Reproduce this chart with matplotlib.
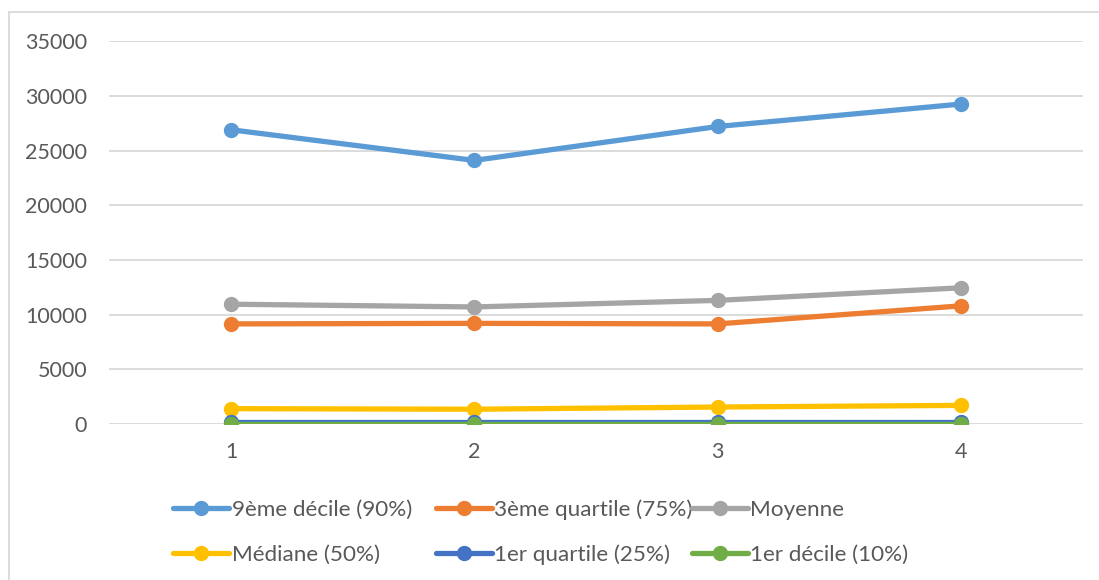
import matplotlib.pyplot as plt
from matplotlib.lines import Line2D

plt.rcParams['font.family'] = ['Lato', 'DejaVu Sans']

# Data
periods = [1, 2, 3, 4]
decile_9 = [26900, 24100, 27200, 29250]
quartile_3 = [9150, 9200, 9150, 10800]
moyenne = [10950, 10700, 11300, 12450]
mediane = [1400, 1350, 1550, 1700]
quartile_1 = [150, 150, 150, 150]
decile_1 = [40, 40, 40, 40]

series = [
    ("9ème décile (90%)", decile_9, '#5B9BD5'),
    ("3ème quartile (75%)", quartile_3, '#ED7D31'),
    ("Moyenne", moyenne, '#A5A5A5'),
    ("Médiane (50%)", mediane, '#FFC000'),
    ("1er quartile (25%)", quartile_1, '#4472C4'),
    ("1er décile (10%)", decile_1, '#70AD47'),
]

fig = plt.figure(figsize=(10.99, 5.8), dpi=100)
ax = fig.add_axes([0.0996, 0.269, 0.8854, 0.660])

for label, vals, col in series:
    ax.plot(periods, vals, color=col, lw=3.8, marker='o', ms=10,
            solid_capstyle='round', label=label, zorder=3)

ax.set_xlim(0.5, 4.5)
ax.set_ylim(0, 35000)
ax.set_yticks(range(0, 35001, 5000))
ax.set_xticks(periods)
ax.grid(axis='y', color='#D9D9D9', lw=1.3, zorder=0)
ax.tick_params(length=0, labelsize=15.5, colors='#595959')
ax.tick_params(axis='x', pad=13)
ax.tick_params(axis='y', pad=16)
for s in ax.spines.values():
    s.set_visible(False)

# chart border (left and top only visible in the reference crop)
fig.add_artist(Line2D([9/1099, 9/1099], [0, 1 - 12/580], color='#D9D9D9', lw=1.3))
fig.add_artist(Line2D([9/1099, 1], [1 - 12/580, 1 - 12/580], color='#D9D9D9', lw=1.3))

# legend: three columns of two entries, placed like the Excel legend
handles, labels = ax.get_legend_handles_labels()
col_x = [173, 436, 692]
for c in range(3):
    idx = [c, c + 3]
    leg = fig.legend([handles[i] for i in idx], [labels[i] for i in idx],
                     loc='center left', bbox_to_anchor=(col_x[c] / 1099, 1 - 532 / 580),
                     frameon=False, fontsize=16.2, labelcolor='#595959',
                     handlelength=2.5, handletextpad=0.1, labelspacing=1.1,
                     borderpad=0, borderaxespad=0)

plt.savefig("out.png", dpi=100)
